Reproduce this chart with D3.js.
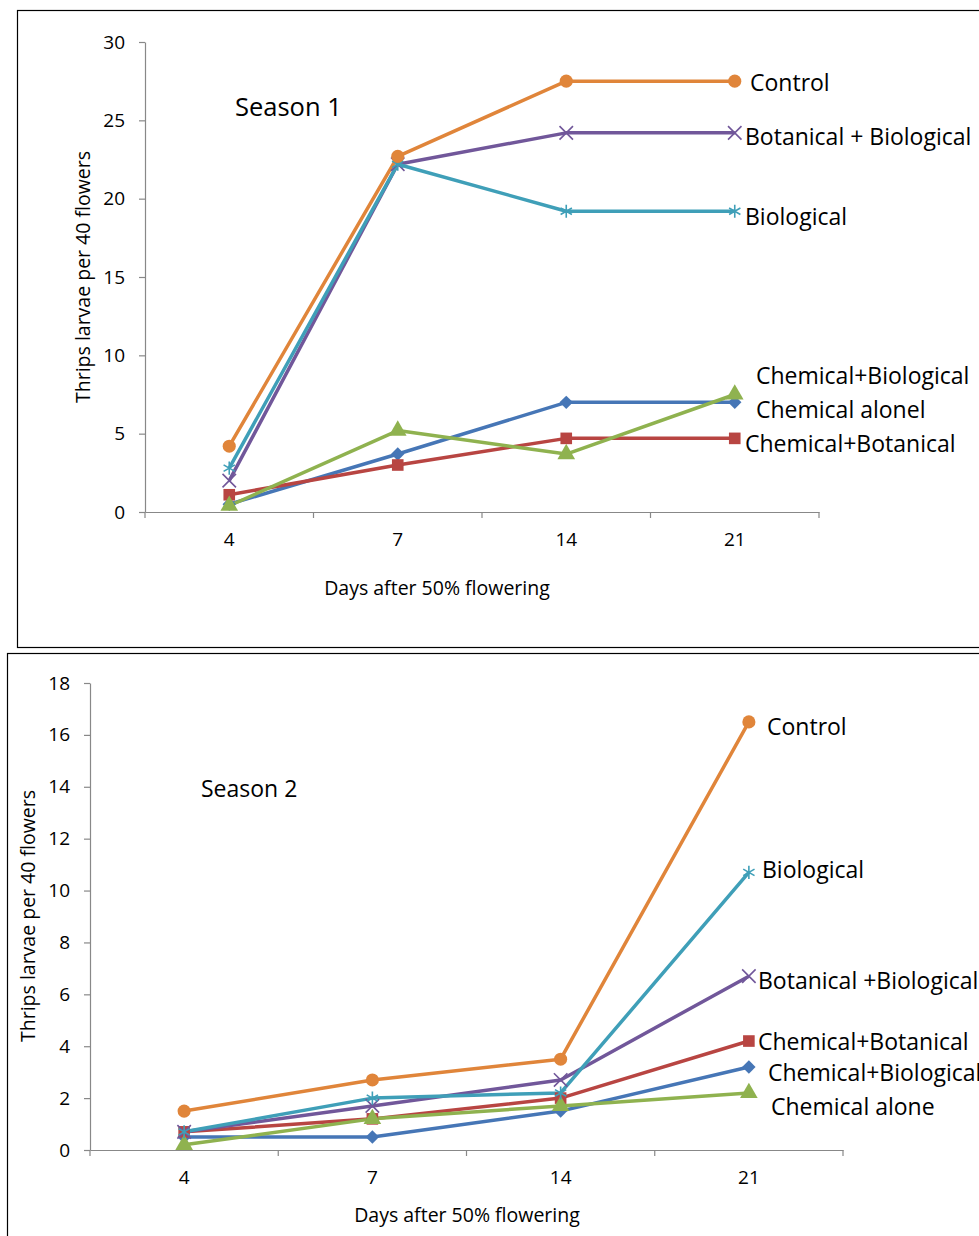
<!DOCTYPE html>
<html>
<head>
<meta charset="utf-8">
<title>Thrips larvae per 40 flowers</title>
<script src="https://d3js.org/d3.v7.min.js"></script>
<style>
  body { margin: 0; background: #fff; }
  svg text { font-family: "Open Sans", "Noto Sans", sans-serif; fill: #000; }
</style>
</head>
<body>
<script>
// ---- data ----
var days = ["4", "7", "14", "21"];

var s1Names = ["Chemical alone", "Chemical+Botanical", "Chemical+Biological", "Botanical + Biological", "Biological", "Control"];
var s1Values = [
  [0.5, 3.7, 7.0, 7.0],
  [1.1, 3.0, 4.7, 4.7],
  [0.4, 5.2, 3.7, 7.5],
  [2.0, 22.2, 24.2, 24.2],
  [2.8, 22.2, 19.2, 19.2],
  [4.2, 22.7, 27.5, 27.5]
];
var s1Labels = ["Chemical alonel", "Chemical+Botanical", "Chemical+Biological", "Botanical + Biological", "Biological", "Control"];
var s1Ticks = [0, 5, 10, 15, 20, 25, 30];

var s2Names = ["Chemical+Biological", "Chemical+Botanical", "Chemical alone", "Botanical +Biological", "Biological", "Control"];
var s2Values = [
  [0.5, 0.5, 1.5, 3.2],
  [0.7, 1.2, 2.0, 4.2],
  [0.2, 1.2, 1.7, 2.2],
  [0.7, 1.7, 2.7, 6.7],
  [0.7, 2.0, 2.2, 10.7],
  [1.5, 2.7, 3.5, 16.5]
];
var s2Labels = ["Chemical+Biological", "Chemical+Botanical", "Chemical alone", "Botanical +Biological", "Biological", "Control"];
var s2Ticks = [0, 2, 4, 6, 8, 10, 12, 14, 16, 18];

// ---- styles (one per series slot) ----
var colors = ["#4676b6", "#b84542", "#8fb24f", "#71579a", "#3f9fb8", "#e0853a"];
var symbols = [d3.symbolSquare, d3.symbolSquare, d3.symbolTriangle, d3.symbolTimes, d3.symbolAsterisk, d3.symbolCircle];
var rotate = [45, 0, 0, 0, 0, 0];
var strokeSymbol = [false, false, false, true, true, false];

var W = 979, H = 1236;
var svg = d3.select("body").append("svg")
  .attr("width", W).attr("height", H);

// panels
svg.append("rect").attr("x", 17.5).attr("y", 10.5).attr("width", 980).attr("height", 637)
  .attr("fill", "none").attr("stroke", "#000").attr("stroke-width", 1.2);
svg.append("rect").attr("x", 7.5).attr("y", 653.5).attr("width", 990).attr("height", 600)
  .attr("fill", "none").attr("stroke", "#000").attr("stroke-width", 1.2);

function drawChart(opt) {
  var g = svg.append("g");
  var x = d3.scaleBand().domain(days).range([opt.left, opt.right]);
  var y = d3.scaleLinear().domain([0, opt.ymax]).range([opt.bottom, opt.top]);

  // y axis
  var ya = g.append("g").attr("transform", "translate(" + opt.left + ",0)")
    .call(d3.axisLeft(y).tickValues(opt.ticks).tickSize(6).tickPadding(14).tickSizeOuter(0));
  ya.selectAll("text").style("font-size", "19px");

  // x axis: labels at band centres, ticks at band edges
  var xa = g.append("g").attr("transform", "translate(0," + opt.bottom + ")")
    .call(d3.axisBottom(x).tickSize(0).tickPadding(21).tickSizeOuter(0));
  xa.selectAll("text").style("font-size", "19px");
  var edges = days.map(function (d) { return x(d); }).concat([x.range()[1]]);
  g.selectAll(".xt").data(edges).enter().append("line")
    .attr("x1", function (d) { return d; }).attr("x2", function (d) { return d; })
    .attr("y1", opt.bottom).attr("y2", opt.bottom + 6);
  g.selectAll(".domain, line").attr("stroke", "#888").attr("stroke-width", 1.2);

  // axis titles
  g.append("text").attr("x", opt.xTitle[0]).attr("y", opt.xTitle[1])
    .attr("text-anchor", "middle").style("font-size", "19.5px").text("Days after 50% flowering");
  g.append("text").attr("transform", "translate(" + opt.yTitle[0] + "," + opt.yTitle[1] + ") rotate(-90)")
    .attr("text-anchor", "middle").attr("dy", "0.35em").style("font-size", "19.5px").text(opt.yTitleText);
  g.append("text").attr("x", opt.season[0]).attr("y", opt.season[1])
    .style("font-size", opt.seasonSize).text(opt.seasonText);

  var line = d3.line()
    .x(function (d, i) { return x(days[i]) + x.bandwidth() / 2; })
    .y(function (d) { return y(d); });

  opt.values.forEach(function (vals, si) {
    g.append("path").datum(vals).attr("d", line)
      .attr("fill", "none").attr("stroke", colors[si]).attr("stroke-width", 3.5)
      .attr("stroke-linejoin", "round");
  });
  opt.values.forEach(function (vals, si) {
    var sym = d3.symbol().type(symbols[si]).size(strokeSymbol[si] ? 120 : (rotate[si] ? 90 : 135));
    g.selectAll(".m" + si).data(vals).enter().append("path")
      .attr("transform", function (d, i) {
        return "translate(" + (x(days[i]) + x.bandwidth() / 2) + "," + y(d) + ") rotate(" + rotate[si] + ")";
      })
      .attr("d", sym)
      .attr("fill", strokeSymbol[si] ? "none" : colors[si])
      .attr("stroke", colors[si])
      .attr("stroke-width", strokeSymbol[si] ? 1.6 : 0);
  });

  // end labels
  opt.labels.forEach(function (lab, si) {
    g.append("text").attr("x", opt.labelPos[si][0]).attr("y", opt.labelPos[si][1])
      .attr("dy", "0.35em").style("font-size", "23px").text(lab);
  });
}

drawChart({
  left: 145, right: 819, top: 42, bottom: 512, ymax: 30, ticks: s1Ticks,
  values: s1Values, labels: s1Labels,
  labelPos: [[756, 410], [745, 444], [756, 376], [745, 137], [745, 217], [750, 83]],
  xTitle: [437, 595], yTitle: [83, 277], yTitleText: "Thrips larvae per 40 flowers",
  season: [235, 116], seasonSize: "25.5px", seasonText: "Season 1"
});

drawChart({
  left: 90, right: 843, top: 683, bottom: 1150, ymax: 18, ticks: s2Ticks,
  values: s2Values, labels: s2Labels,
  labelPos: [[768, 1073], [758, 1042], [771, 1107], [758, 981], [762, 870], [767, 727]],
  xTitle: [467, 1222], yTitle: [28, 916], yTitleText: "Thrips  larvae per 40 flowers",
  season: [201, 797], seasonSize: "23px", seasonText: "Season 2"
});
</script>
</body>
</html>
